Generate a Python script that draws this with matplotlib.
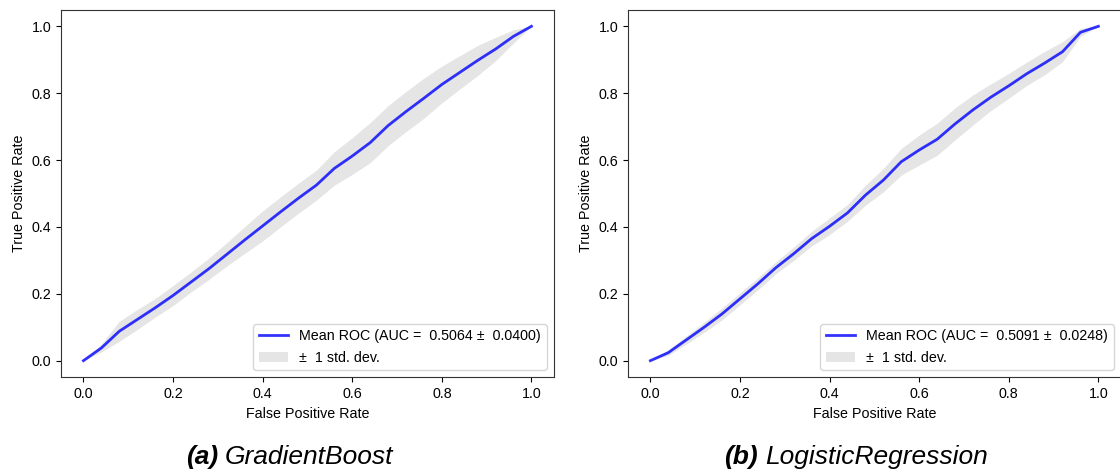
import numpy as np
import matplotlib
matplotlib.use("Agg")
import matplotlib.pyplot as plt

plt.rcParams["font.family"] = ["Liberation Sans", "DejaVu Sans"]
plt.rcParams["font.size"] = 10.3
plt.rcParams["axes.edgecolor"] = "#333333"

# mean ROC curves, common FPR grid
fpr = [0.00, 0.04, 0.08, 0.12, 0.16, 0.20, 0.24, 0.28, 0.32, 0.36, 0.40, 0.44, 0.48,
       0.52, 0.56, 0.60, 0.64, 0.68, 0.72, 0.76, 0.80, 0.84, 0.88, 0.92, 0.96, 1.00]

gb_tpr = [0.000, 0.038, 0.088, 0.123, 0.158, 0.195, 0.235, 0.275, 0.318, 0.361, 0.403, 0.445, 0.486,
          0.525, 0.575, 0.612, 0.652, 0.703, 0.745, 0.785, 0.826, 0.862, 0.898, 0.932, 0.970, 1.000]
gb_std = [0.000, 0.012, 0.030, 0.030, 0.028, 0.030, 0.030, 0.032, 0.035, 0.040, 0.045, 0.045, 0.045,
          0.045, 0.050, 0.055, 0.060, 0.060, 0.060, 0.060, 0.055, 0.050, 0.045, 0.035, 0.020, 0.000]

lr_tpr = [0.000, 0.024, 0.062, 0.100, 0.140, 0.185, 0.230, 0.278, 0.320, 0.365, 0.402, 0.442, 0.495,
          0.540, 0.595, 0.630, 0.662, 0.708, 0.750, 0.788, 0.822, 0.858, 0.890, 0.924, 0.982, 1.000]
lr_std = [0.000, 0.008, 0.012, 0.015, 0.018, 0.018, 0.018, 0.018, 0.020, 0.022, 0.025, 0.025, 0.030,
          0.035, 0.040, 0.045, 0.048, 0.048, 0.045, 0.040, 0.037, 0.035, 0.035, 0.030, 0.012, 0.000]

auc_labels = ["Mean ROC (AUC =  0.5064 ±  0.0400)", "Mean ROC (AUC =  0.5091 ±  0.0248)"]
captions = [("(a)", "GradientBoost"), ("(b)", "LogisticRegression")]
caption_split = [218 / 1120, 758 / 1120]

fig = plt.figure(figsize=(11.2, 4.74), dpi=100)
ax_left = fig.add_axes([0.0545, 0.2038, 0.440, 0.776])
ax_right = fig.add_axes([0.5607, 0.2038, 0.440, 0.776])

for ax, tpr, std, lab in [(ax_left, gb_tpr, gb_std, auc_labels[0]),
                          (ax_right, lr_tpr, lr_std, auc_labels[1])]:
    tpr = np.array(tpr)
    std = np.array(std)
    upper = np.minimum(tpr + std, 1)
    lower = np.maximum(tpr - std, 0)
    ax.plot(fpr, tpr, color="b", lw=2, alpha=0.8, label=lab)
    ax.fill_between(fpr, lower, upper, color="grey", alpha=0.2, lw=0, label="±  1 std. dev.")
    ax.set_xlabel("False Positive Rate")
    ax.set_ylabel("True Positive Rate")
    ax.set_xticks([0, 0.2, 0.4, 0.6, 0.8, 1.0])
    ax.set_yticks([0, 0.2, 0.4, 0.6, 0.8, 1.0])
    ax.set_xlim(-0.05, 1.05)
    ax.set_ylim(-0.05, 1.05)
    ax.legend(loc="lower right")

for (tag, name), x in zip(captions, caption_split):
    fig.text(x, 0.036, tag, fontsize=19, fontweight="bold", fontstyle="italic", ha="right", va="center")
    fig.text(x + 0.006, 0.036, name, fontsize=19, fontstyle="italic", ha="left", va="center")

fig.savefig("out.png", dpi=100)
